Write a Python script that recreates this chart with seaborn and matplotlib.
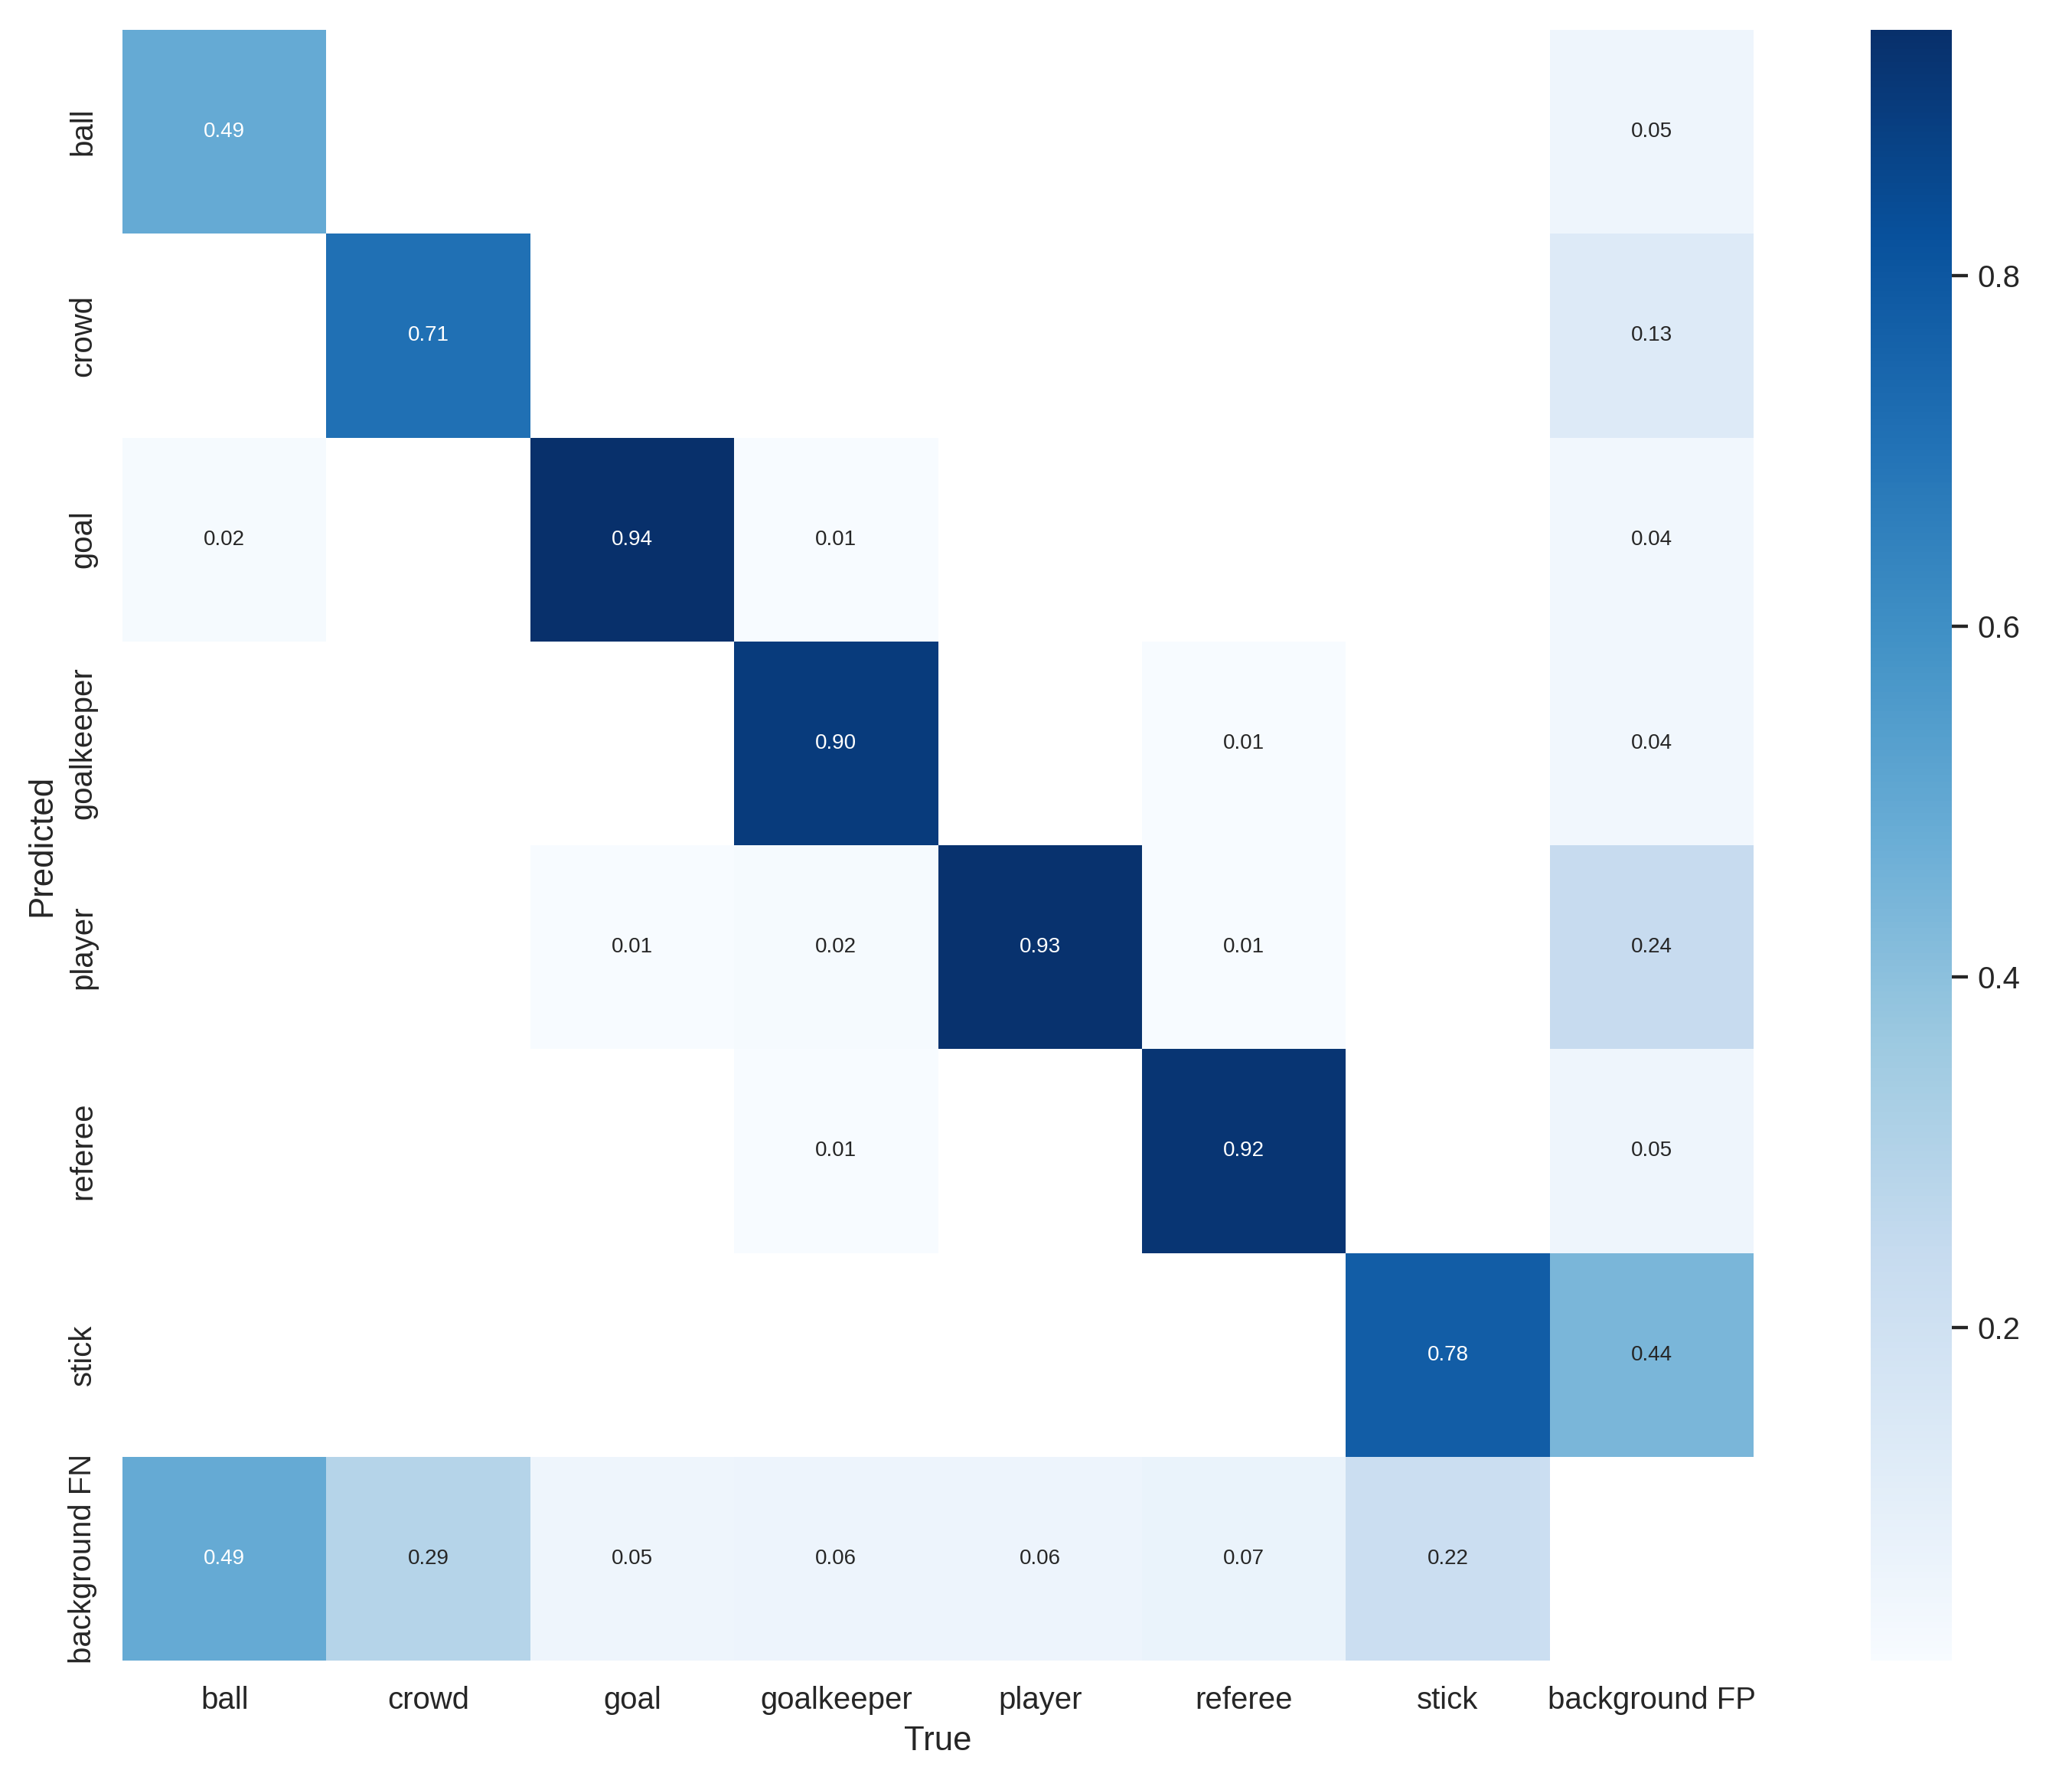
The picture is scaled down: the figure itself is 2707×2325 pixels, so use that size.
import numpy as np
import pandas as pd
import matplotlib
matplotlib.use("Agg")
import matplotlib.pyplot as plt
import seaborn as sns

names = ["ball", "crowd", "goal", "goalkeeper", "player", "referee", "stick"]
xlabels = names + ["background FP"]
ylabels = names + ["background FN"]

# rows = Predicted, columns = True
row_ball = [0.49, np.nan, np.nan, np.nan, np.nan, np.nan, np.nan, 0.05]
row_crowd = [np.nan, 0.71, np.nan, np.nan, np.nan, np.nan, np.nan, 0.13]
row_goal = [0.02, np.nan, 0.94, 0.01, np.nan, np.nan, np.nan, 0.04]
row_goalkeeper = [np.nan, np.nan, np.nan, 0.90, np.nan, 0.01, np.nan, 0.04]
row_player = [np.nan, np.nan, 0.01, 0.02, 0.93, 0.01, np.nan, 0.24]
row_referee = [np.nan, np.nan, np.nan, 0.01, np.nan, 0.92, np.nan, 0.05]
row_stick = [np.nan, np.nan, np.nan, np.nan, np.nan, np.nan, 0.78, 0.44]
row_bgfn = [0.49, 0.29, 0.05, 0.06, 0.06, 0.07, 0.22, np.nan]

array = np.array([row_ball, row_crowd, row_goal, row_goalkeeper,
                  row_player, row_referee, row_stick, row_bgfn])

sns.set(font_scale=1.05)
plt.rcParams["font.family"] = ["Liberation Sans", "DejaVu Sans"]

W, H = 2707, 2325
fig = plt.figure(figsize=(W / 250, H / 250))
ax = fig.add_axes([160 / W, (H - 2169) / H, 2131 / W, 2130 / H])
cax = fig.add_axes([2444 / W, (H - 2169) / H, 106 / W, 2130 / H])
sns.heatmap(array, ax=ax, cbar_ax=cax, annot=True, annot_kws={"size": 8},
            cmap="Blues", fmt=".2f", square=False,
            xticklabels=xlabels, yticklabels=ylabels)
ax.set_facecolor((1, 1, 1))
ax.set_xlabel("True")
ax.set_ylabel("Predicted")
fig.savefig("out.png", dpi=250)
